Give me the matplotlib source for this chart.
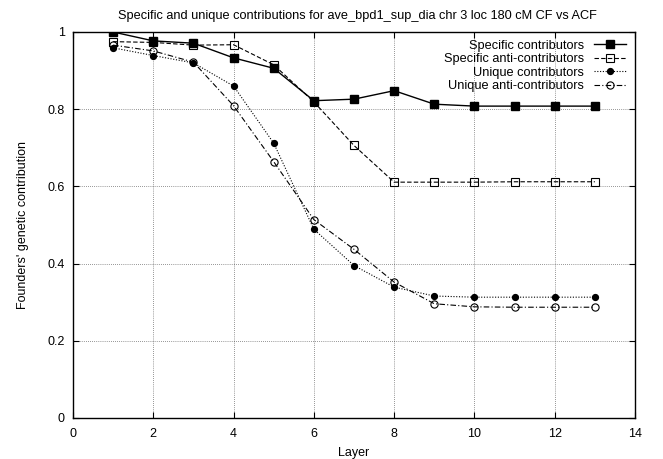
import matplotlib
matplotlib.use("Agg")
import matplotlib.pyplot as plt

plt.rcParams['font.family'] = ['Liberation Sans', 'DejaVu Sans']

layers = [1, 2, 3, 4, 5, 6, 7, 8, 9, 10, 11, 12, 13]
specific_contrib = [1.000, 0.977, 0.971, 0.933, 0.906, 0.822, 0.826, 0.848, 0.813, 0.808, 0.808, 0.808, 0.808]
specific_anti = [0.975, 0.973, 0.966, 0.967, 0.915, 0.819, 0.706, 0.611, 0.611, 0.611, 0.612, 0.612, 0.612]
unique_contrib = [0.959, 0.939, 0.920, 0.860, 0.712, 0.489, 0.395, 0.339, 0.316, 0.313, 0.313, 0.313, 0.313]
unique_anti = [0.966, 0.951, 0.922, 0.809, 0.664, 0.514, 0.437, 0.352, 0.296, 0.288, 0.287, 0.287, 0.287]

x_ticks = [0, 2, 4, 6, 8, 10, 12, 14]
y_ticks = [0, 0.2, 0.4, 0.6, 0.8, 1]
y_tick_labels = ['0', '0.2', '0.4', '0.6', '0.8', '1']

fig = plt.figure(figsize=(6.63, 4.59), dpi=100)
ax = fig.add_axes([73 / 663, 41 / 459, 562 / 663, 386 / 459])

ax.plot(layers, specific_contrib, color='black', linestyle='-', linewidth=1.0,
        marker='s', markersize=5.5, markerfacecolor='black', markeredgecolor='black',
        label='Specific contributors')
ax.plot(layers, specific_anti, color='black', linestyle=(0, (4, 2)), linewidth=0.8,
        marker='s', markersize=5.5, markerfacecolor='none', markeredgecolor='black',
        markeredgewidth=0.8, label='Specific anti-contributors')
ax.plot(layers, unique_contrib, color='black', linestyle=(0, (1, 1.5)), linewidth=0.8,
        marker='o', markersize=4.2, markerfacecolor='black', markeredgecolor='black',
        label='Unique contributors')
ax.plot(layers, unique_anti, color='black', linestyle=(0, (5, 2, 1, 2)), linewidth=0.8,
        marker='o', markersize=5.2, markerfacecolor='none', markeredgecolor='black',
        markeredgewidth=0.8, label='Unique anti-contributors')

ax.set_xlim(0, 14)
ax.set_ylim(0, 1)
ax.set_xticks(x_ticks)
ax.set_xticklabels([str(t) for t in x_ticks])
ax.set_yticks(y_ticks)
ax.set_yticklabels(y_tick_labels)
ax.tick_params(direction='in', top=True, right=True, length=4, labelsize=9, width=0.8)
ax.tick_params(axis='x', pad=7.5)
ax.tick_params(axis='y', pad=6)
ax.grid(True, color='black', linestyle=(0, (1, 2)), linewidth=0.5, alpha=0.8)
for s in ax.spines.values():
    s.set_linewidth(1.0)

ax.set_xlabel('Layer', fontsize=9, labelpad=5)
ax.set_ylabel("Founders' genetic contribution", fontsize=9, labelpad=13)
ax.set_title('Specific and unique contributions for ave_bpd1_sup_dia chr 3 loc 180 cM CF vs ACF',
             fontsize=9.2, pad=9, x=0.507)

leg = ax.legend(loc='upper right', frameon=False, markerfirst=False, fontsize=9.2,
                handlelength=2.5, handletextpad=0.8, labelspacing=0.12,
                borderaxespad=0.2, bbox_to_anchor=(0.998, 1.0))
for t in leg.get_texts():
    t.set_ha('right')
leg._legend_box.align = 'right'

fig.savefig('out.png', dpi=100)
